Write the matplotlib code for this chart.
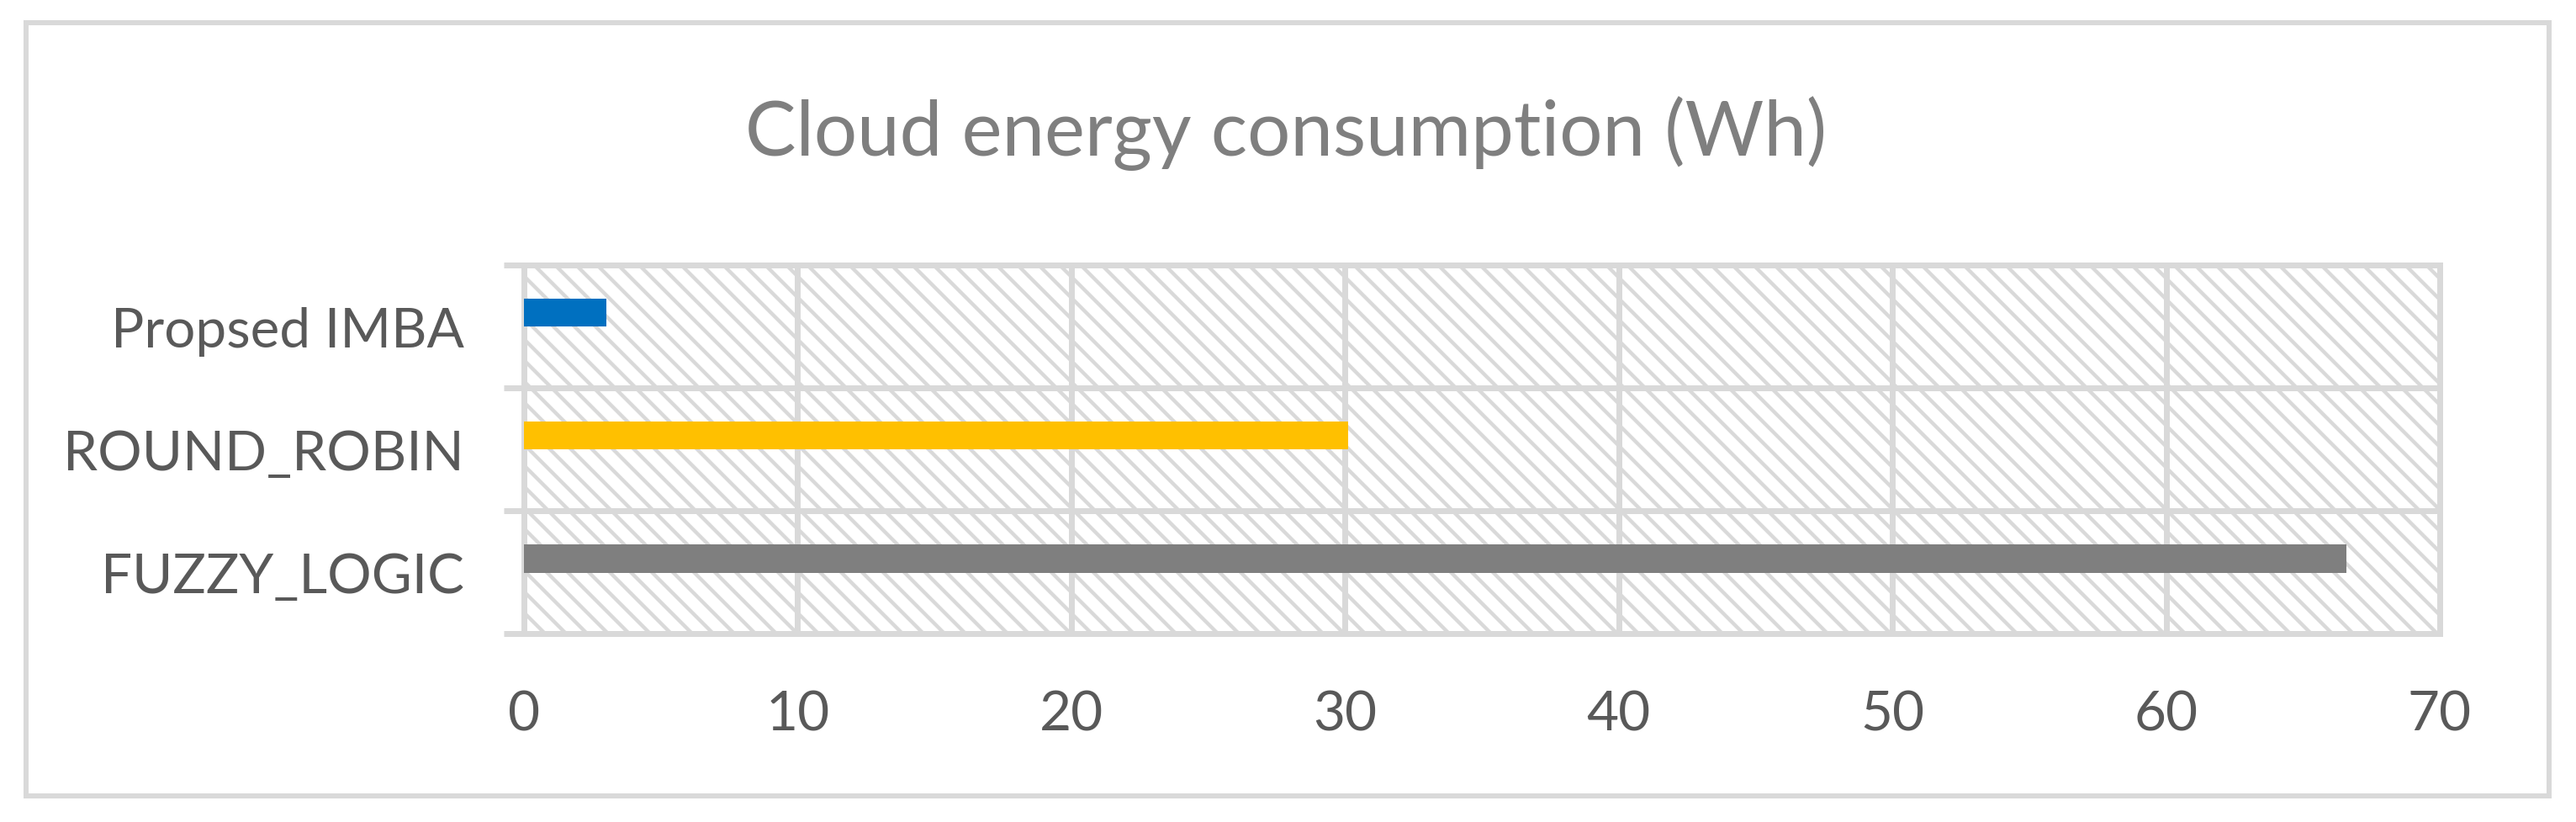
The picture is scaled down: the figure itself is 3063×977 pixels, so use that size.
import matplotlib
matplotlib.use("Agg")
import matplotlib.pyplot as plt
import numpy as np
from matplotlib.patches import Rectangle
from matplotlib.collections import LineCollection

# ---- data ----
categories = ["FUZZY_LOGIC", "ROUND_ROBIN", "Propsed IMBA"]
values = [66.6, 30.1, 3.0]
bar_colors = ["#7F7F7F", "#FFC000", "#0070C0"]
x_ticks = [0, 10, 20, 30, 40, 50, 60, 70]
title = "Cloud energy consumption (Wh)"

# ---- style ----
W, H, DPI = 3063, 978, 150
GRID = "#D9D9D9"
LW = 3.36
plt.rcParams["font.family"] = ["Lato", "DejaVu Sans"]

fig = plt.figure(figsize=(W / DPI, H / DPI), dpi=DPI)
fig.patch.set_facecolor("white")

# outer chart border
fig.add_artist(Rectangle((30.5 / W, 1 - 947 / H), (3031 - 30.5) / W, (947 - 28) / H,
                         transform=fig.transFigure, fill=False, edgecolor=GRID,
                         linewidth=2.9, zorder=0))

rect = [623 / W, 1 - 754 / H, (2901 - 623) / W, (754 - 315.5) / H]

# hatched plot-area background (decorative diagonal pattern, pixel units)
bg = fig.add_axes(rect, zorder=0)
pw, ph = 2901 - 623, 754 - 315.5
bg.set_xlim(0, pw)
bg.set_ylim(0, ph)
bg.axis("off")
period = 25.0
cs = np.arange(-ph - period, pw + period, period)
segs = [[(c, ph), (c + ph, 0)] for c in cs]
bg.add_collection(LineCollection(segs, colors=GRID, linewidths=2.1))

ax = fig.add_axes(rect, zorder=1)
ax.patch.set_alpha(0)

pos = list(range(len(categories)))
offset = 0.11
bar_h = 0.228
ax.barh([p + offset for p in pos], values, height=bar_h, color=bar_colors, zorder=3)

ax.set_xlim(x_ticks[0], x_ticks[-1])
ax.set_ylim(-0.5, len(categories) - 0.5)
ax.set_xticks(x_ticks)
ax.set_xticklabels([str(t) for t in x_ticks])
ax.set_yticks(pos)
ax.set_yticklabels(categories)
ax.set_yticks([p - 0.5 for p in pos] + [len(categories) - 0.5], minor=True)

ax.tick_params(axis="x", which="both", length=0, pad=32, labelsize=31.5, labelcolor="#595959")
ax.tick_params(axis="y", which="major", length=0, pad=34, labelsize=31.5, labelcolor="#595959")
ax.tick_params(axis="y", which="minor", length=11.5, width=LW, color=GRID, direction="out")

ax.grid(axis="x", which="major", color=GRID, linewidth=LW, zorder=1)
ax.grid(axis="y", which="minor", color=GRID, linewidth=LW, zorder=1)
for s in ax.spines.values():
    s.set_color(GRID)
    s.set_linewidth(LW)
    s.set_zorder(2)

fig.text(1529 / W, 1 - 185 / H, title, ha="center", va="baseline",
         fontsize=43.5, color="#7F7F7F")

fig.savefig("out.png", dpi=DPI, facecolor="white")
